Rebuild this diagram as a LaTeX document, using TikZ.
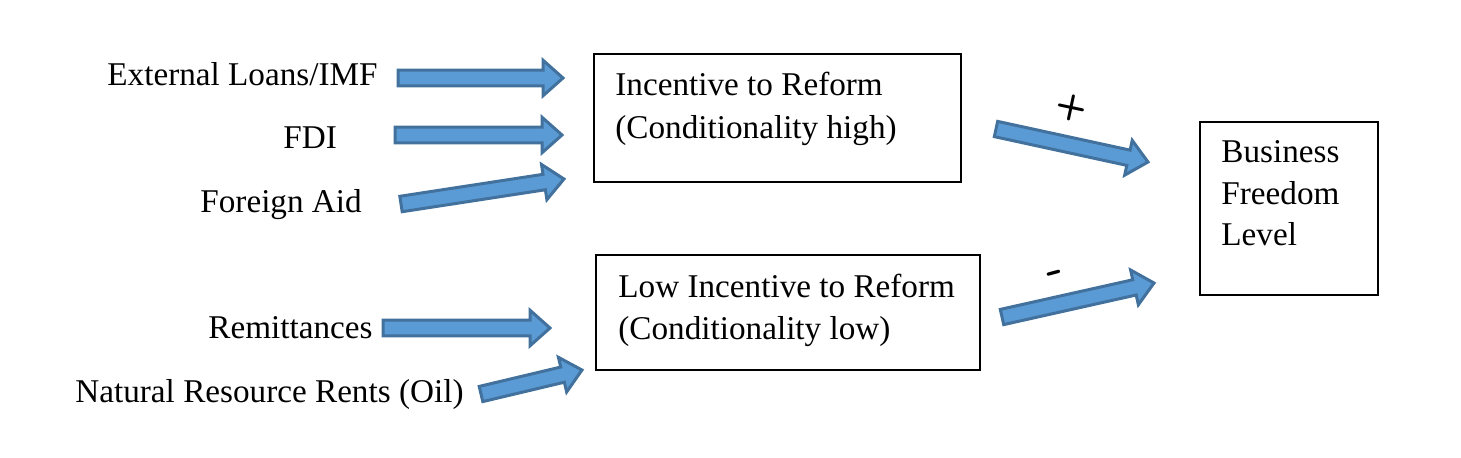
\documentclass[tikz,border=0pt]{standalone}
\usepackage{fontspec}
\setmainfont{Liberation Serif}
\usetikzlibrary{calc}
\definecolor{afill}{HTML}{5B9BD5}
\definecolor{aline}{HTML}{41719C}
\tikzset{
  barrow/.style={fill=afill, draw=aline, line width=1.5pt, line join=miter},
  box/.style={draw=black, line width=1pt, inner sep=0pt, outer sep=0pt, anchor=north west},
  lbl/.style={inner sep=0pt, anchor=base west, font=\fontsize{16.6}{21}\selectfont},
  sign/.style={inner sep=0pt, font=\sffamily\bfseries\fontsize{18}{20}\selectfont},
}
\newcommand\blockarrow[2]{%
  \path[barrow] let \p1=($(#2)-(#1)$), \n1={atan2(\y1,\x1)}, \n2={veclen(\x1,\y1)}, \n3={veclen(\x1,\y1)-10pt} in
    [shift={(#1)}, rotate=\n1]
    (0pt,3.9pt) -- (\n3,3.9pt) -- (\n3,8.9pt) -- (\n2,0pt) -- (\n3,-8.9pt) -- (\n3,-3.9pt) -- (0pt,-3.9pt) -- cycle;}
\begin{document}
\begin{tikzpicture}[x=0.5pt,y=-0.5pt]
\useasboundingbox (0,0) rectangle (1461,457);
% boxes
\node[box, minimum width=183.5pt, minimum height=64pt] (b1) at (594,54) {};
\node[box, minimum width=192pt, minimum height=57.5pt] (b2) at (596,255) {};
\node[box, minimum width=89pt, minimum height=86.5pt] (b3) at (1200,122) {};
% box texts
\node[lbl] (t1a) at (615,95.5) {Incentive to Reform};
\node[lbl] (t1b) at (615,138.5) {(Conditionality high)};
\node[lbl] (t2a) at (618,297) {Low Incentive to Reform};
\node[lbl] (t2b) at (618,339) {(Conditionality low)};
\node[lbl] (t3a) at (1221,162.5) {Business};
\node[lbl] (t3b) at (1221,204) {Freedom};
\node[lbl] (t3c) at (1221,245.5) {Level};
% left labels
\node[lbl] (l1) at (107,85.5) {External Loans/IMF};
\node[lbl] (l2) at (283,148) {FDI};
\node[lbl] (l3) at (200,212) {Foreign Aid};
\node[lbl] (l4) at (208,338) {Remittances};
\node[lbl] (l5) at (75,402) {Natural Resource Rents (Oil)};
% signs
\node[sign, rotate=-12] (plus) at (1071,108) {+};
\node[sign, rotate=15, scale=1.3] (minus) at (1056,277) {-};
% arrow endpoints
\coordinate (a1s) at (398,78);   \coordinate (a1e) at (563,78);
\coordinate (a2s) at (395,135);  \coordinate (a2e) at (562,135);
\coordinate (a3s) at (401,204);  \coordinate (a3e) at (564,179);
\coordinate (a4s) at (383,328);  \coordinate (a4e) at (550,328);
\coordinate (a5s) at (481,394);  \coordinate (a5e) at (582,370);
\coordinate (a6s) at (996,129);  \coordinate (a6e) at (1148,162);
\coordinate (a7s) at (1002,317); \coordinate (a7e) at (1154,283);
\blockarrow{a1s}{a1e}
\blockarrow{a2s}{a2e}
\blockarrow{a3s}{a3e}
\blockarrow{a4s}{a4e}
\blockarrow{a5s}{a5e}
\blockarrow{a6s}{a6e}
\blockarrow{a7s}{a7e}
\end{tikzpicture}
\end{document}
